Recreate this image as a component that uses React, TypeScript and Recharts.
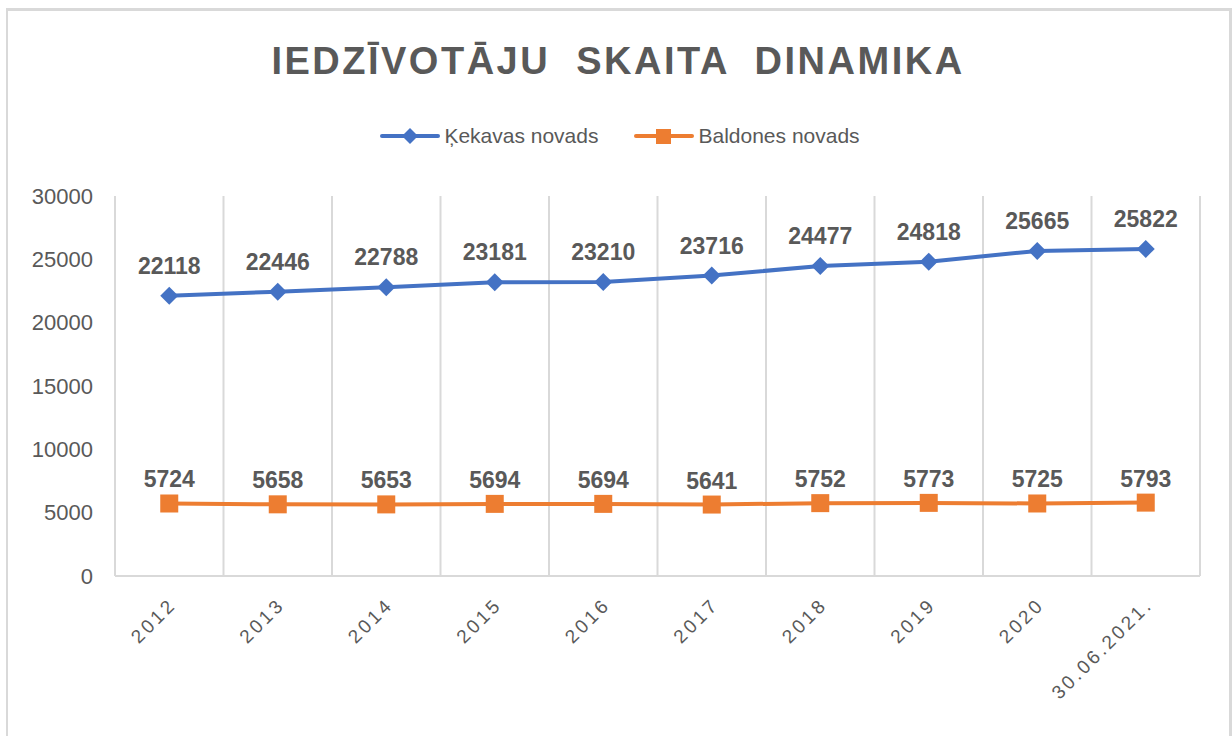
import { LineChart, Line, XAxis, YAxis, CartesianGrid, LabelList } from 'recharts';

const categories = ['2012', '2013', '2014', '2015', '2016', '2017', '2018', '2019', '2020', '30.06.2021.'];
const kekava = [22118, 22446, 22788, 23181, 23210, 23716, 24477, 24818, 25665, 25822];
const baldone = [5724, 5658, 5653, 5694, 5694, 5641, 5752, 5773, 5725, 5793];
const yTicks = [0, 5000, 10000, 15000, 20000, 25000, 30000];

const BLUE = '#4472C4';
const ORANGE = '#ED7D31';
const TEXT = '#595959';
const GRID = '#D9D9D9';
const FONT = "'Liberation Sans', Arial, sans-serif";

const data = categories.map((name, i) => ({ name, kekava: kekava[i], baldone: baldone[i] }));

const Diamond = (props: any) => {
  const { cx, cy } = props;
  if (cx == null || cy == null) return null;
  const r = 9;
  return <polygon points={`${cx},${cy - r} ${cx + r},${cy} ${cx},${cy + r} ${cx - r},${cy}`} fill={BLUE} />;
};

const Square = (props: any) => {
  const { cx, cy } = props;
  if (cx == null || cy == null) return null;
  const s = 18;
  return <rect x={cx - s / 2} y={cy - s / 2} width={s} height={s} fill={ORANGE} />;
};

const XTick = (props: any) => {
  const { x, y, payload } = props;
  return (
    <g transform={`translate(${x + 8},${y + 22})`}>
      <text
        x={0}
        y={0}
        textAnchor="end"
        transform="rotate(-45)"
        fill={TEXT}
        fontSize={19}
        fontFamily={FONT}
        letterSpacing={3}
      >
        {payload.value}
      </text>
    </g>
  );
};

const legendItems = [
  { label: 'Ķekavas novads', color: BLUE, shape: 'diamond' },
  { label: 'Baldones novads', color: ORANGE, shape: 'square' },
];

const ChartLegend = () => (
  <div
    style={{
      position: 'absolute',
      top: 124,
      left: 0,
      width: 1240,
      display: 'flex',
      justifyContent: 'center',
      alignItems: 'center',
      gap: 36,
      fontFamily: FONT,
    }}
  >
    {legendItems.map((item) => (
      <div key={item.label} style={{ display: 'flex', alignItems: 'center' }}>
        <svg width={60} height={20}>
          <line x1={2} y1={10} x2={58} y2={10} stroke={item.color} strokeWidth={4} strokeLinecap="round" />
          {item.shape === 'diamond' ? (
            <polygon points="30,2 38,10 30,18 22,10" fill={item.color} />
          ) : (
            <rect x={22} y={3} width={15} height={15} fill={item.color} />
          )}
        </svg>
        <span style={{ marginLeft: 4, fontSize: 21, color: TEXT }}>{item.label}</span>
      </div>
    ))}
  </div>
);

const verticalLines = ({ offset }: any) => {
  const n = categories.length;
  const out: number[] = [];
  for (let i = 0; i <= n; i++) out.push(offset.left + (offset.width * i) / n);
  return out;
};

export default function App() {
  return (
    <div style={{ position: 'relative', width: 1232, height: 736, background: '#fff', overflow: 'hidden' }}>
      <style>{'body{margin:0}'}</style>
      <div
        style={{
          position: 'absolute',
          left: 6,
          top: 8,
          width: 1221,
          height: 740,
          borderTop: `3px solid ${GRID}`,
          borderLeft: `2px solid ${GRID}`,
          borderRight: `3px solid ${GRID}`,
        }}
      />
      <div
        style={{
          position: 'absolute',
          top: 40,
          left: 0,
          width: 1236,
          textAlign: 'center',
          fontFamily: FONT,
          fontWeight: 'bold',
          fontSize: 38,
          letterSpacing: 2.5,
          color: TEXT,
          whiteSpace: 'pre',
        }}
      >
        {'IEDZĪVOTĀJU  SKAITA  DINAMIKA'}
      </div>
      <ChartLegend />
      <div style={{ position: 'absolute', left: 0, top: 0 }}>
        <LineChart width={1232} height={736} data={data} margin={{ top: 196, right: 32, left: 35, bottom: 10 }}>
          <CartesianGrid horizontal={false} vertical stroke={GRID} strokeWidth={2} verticalCoordinatesGenerator={verticalLines} />
          <XAxis
            dataKey="name"
            scale="band"
            height={150}
            axisLine={{ stroke: GRID, strokeWidth: 2 }}
            tickLine={false}
            tick={<XTick />}
            interval={0}
          />
          <YAxis
            width={80}
            domain={[0, 30000]}
            ticks={yTicks}
            axisLine={false}
            tickLine={false}
            tickSize={0}
            tickMargin={22}
            tick={{ fill: TEXT, fontSize: 22, fontFamily: FONT }}
          />
          <Line
            type="linear"
            dataKey="kekava"
            name="Ķekavas novads"
            stroke={BLUE}
            strokeWidth={4}
            dot={<Diamond />}
            activeDot={false}
            isAnimationActive={false}
          >
            <LabelList dataKey="kekava" position="top" offset={22} fill={TEXT} fontSize={23} fontWeight="bold" fontFamily={FONT} />
          </Line>
          <Line
            type="linear"
            dataKey="baldone"
            name="Baldones novads"
            stroke={ORANGE}
            strokeWidth={4}
            dot={<Square />}
            activeDot={false}
            isAnimationActive={false}
          >
            <LabelList dataKey="baldone" position="top" offset={16} fill={TEXT} fontSize={23} fontWeight="bold" fontFamily={FONT} />
          </Line>
        </LineChart>
      </div>
    </div>
  );
}
